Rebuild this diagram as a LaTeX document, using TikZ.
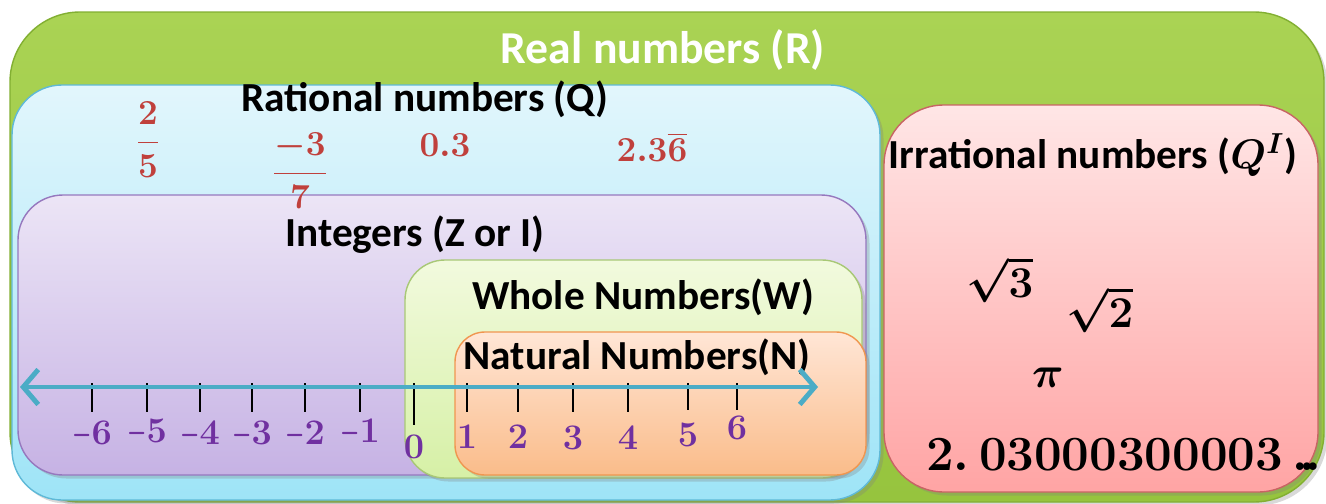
\RequirePackage{fix-cm}
\documentclass[tikz,border=0pt]{standalone}
\usepackage{amsmath,amssymb}
\usepackage{bm}
\usepackage{graphicx}
\usepackage{fontspec}
\setmainfont{Carlito}
\usetikzlibrary{arrows.meta,shadows}
\definecolor{realTop}{RGB}{170,211,84}
\definecolor{realBot}{RGB}{150,196,62}
\definecolor{realLine}{RGB}{130,175,50}
\definecolor{ratTop}{RGB}{226,246,252}
\definecolor{ratBot}{RGB}{158,228,247}
\definecolor{ratLine}{RGB}{95,185,215}
\definecolor{intTop}{RGB}{236,229,246}
\definecolor{intBot}{RGB}{198,178,228}
\definecolor{intLine}{RGB}{150,120,190}
\definecolor{wholeTop}{RGB}{242,250,222}
\definecolor{wholeBot}{RGB}{214,240,166}
\definecolor{wholeLine}{RGB}{168,200,118}
\definecolor{natTop}{RGB}{255,230,214}
\definecolor{natBot}{RGB}{250,188,138}
\definecolor{natLine}{RGB}{240,150,80}
\definecolor{irrTop}{RGB}{255,230,230}
\definecolor{irrBot}{RGB}{255,164,164}
\definecolor{irrLine}{RGB}{200,100,100}
\definecolor{lineBlue}{RGB}{75,172,198}
\definecolor{ratRed}{RGB}{192,64,60}
\definecolor{tickPurple}{RGB}{112,48,160}
\newcommand{\mneg}{\scalebox{0.6}[1]{$-$}}

\begin{document}
\begin{tikzpicture}[x=0.02cm,y=-0.02cm,
  setbox/.style={rounded corners=#1, line width=0.8pt,
    drop shadow={opacity=0.3,shadow xshift=2pt,shadow yshift=-2pt}},
  settitle/.style={inner sep=0.5pt,font=\fontsize{23.5}{27}\selectfont\bfseries},
  ratnum/.style={text=ratRed,inner sep=0pt,font=\fontsize{20}{24}\selectfont\boldmath},
  irrnum/.style={font=\fontsize{25}{30}\selectfont\boldmath},
  ticklbl/.style={text=tickPurple,inner sep=1pt,font=\fontsize{20.5}{24}\selectfont\boldmath},
  tickline/.style={line width=0.8pt,black},
  numline/.style={line width=2.8pt,draw=lineBlue,
    {Straight Barb[length=3mm,width=7mm]}-{Straight Barb[length=3mm,width=7mm]}}]

\useasboundingbox (0,0) rectangle (1326,504);

% real numbers
\path[setbox=1.4cm, top color=realTop, bottom color=realBot, draw=realLine] (10,12) rectangle (1324,502);
\node[text=white,font=\fontsize{26}{30}\selectfont\bfseries] (realT) at (663,50) {Real numbers (R)};

% rational numbers
\path[setbox=1cm, top color=ratTop, bottom color=ratBot, draw=ratLine] (12,85) rectangle (880,500);
\node[settitle] (ratT) at (425,99) {Rational numbers (Q)};

% integers
\path[setbox=0.9cm, top color=intTop, bottom color=intBot, draw=intLine] (18,195) rectangle (866,475);
\node[settitle] (intT) at (415,235) {Integers (Z or I)};

% examples of rationals (drawn over the integer box)
\node[ratnum] (q1) at (148,140) {$\dfrac{2}{5}$};
\node[ratnum] (q2) at (300,171) {$\dfrac{-3}{7}$};
\node[ratnum] (q3) at (445,145) {$0.3$};
\node[ratnum] (q4) at (652,147) {$2.3\overline{6}$};

% whole numbers
\path[setbox=0.8cm, top color=wholeTop, bottom color=wholeBot, draw=wholeLine] (405,260) rectangle (862,478);
\node[settitle] (wholeT) at (643,297) {Whole Numbers(W)};

% natural numbers
\path[setbox=0.6cm, top color=natTop, bottom color=natBot, draw=natLine] (455,332) rectangle (866,475);
\node[settitle] (natT) at (637,357) {Natural Numbers(N)};

% number line
\foreach \n/\xx/\yy/\bb [count=\i] in {\mneg6/92/435/412,\mneg5/147/433/412,\mneg4/200/435/412,
    \mneg3/252/435/412,\mneg2/305/435/412,\mneg1/360/433/412,0/414/447/425,1/467/437/412,
    2/518/437/412,3/573/438/412,4/628/438/412,5/688/435/410,6/737/428/410}{
  \coordinate (tkt\i) at (\xx,383);
  \coordinate (tkb\i) at (\xx,\bb);
  \draw[tickline] (tkt\i) -- (tkb\i);
  \node[ticklbl] (tl\i) at (\xx,\yy) {$\n$};
}
\coordinate (lineL) at (20,387);
\coordinate (lineR) at (818,387);
\draw[numline] (lineL) -- (lineR);

% irrational numbers
\path[setbox=1.2cm, top color=irrTop, bottom color=irrBot, draw=irrLine] (884,105) rectangle (1318,492);
\node[settitle] (irrT) at (1093,155) {Irrational numbers ($\boldsymbol{Q^{I}}$)};
\node[irrnum] (r1) at (1000,280) {$\sqrt{3}$};
\node[irrnum] (r2) at (1100,310) {$\sqrt{2}$};
\node[irrnum] (r3) at (1048,378) {$\pi$};
\node[irrnum,anchor=west,font=\fontsize{28}{32}\selectfont\boldmath] (r4) at (920,455) {$2.\,03000300003\,.\!.\!.$};
\end{tikzpicture}
\end{document}
